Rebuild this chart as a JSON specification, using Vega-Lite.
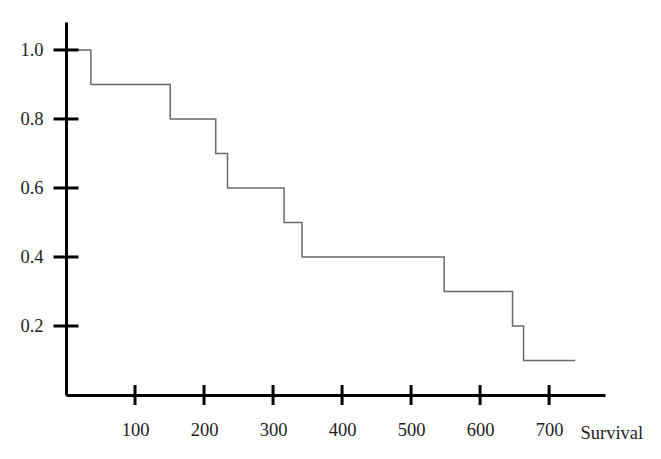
{
  "$schema": "https://vega.github.io/schema/vega-lite/v6.json",
  "autosize": "none",
  "width": 539,
  "height": 373,
  "padding": {"left": 66, "top": 22, "right": 56, "bottom": 64},
  "background": "white",
  "config": {"view": {"stroke": null}},
  "datasets": {
    "km": [
      {"t": 0, "s": 1.0},
      {"t": 36, "s": 0.9},
      {"t": 151, "s": 0.8},
      {"t": 217, "s": 0.7},
      {"t": 234, "s": 0.6},
      {"t": 316, "s": 0.5},
      {"t": 342, "s": 0.4},
      {"t": 548, "s": 0.3},
      {"t": 647, "s": 0.2},
      {"t": 663, "s": 0.1},
      {"t": 738, "s": 0.1}
    ],
    "xt": [{"v": 100}, {"v": 200}, {"v": 300}, {"v": 400}, {"v": 500}, {"v": 600}, {"v": 700}],
    "yt": [{"v": 0.2}, {"v": 0.4}, {"v": 0.6}, {"v": 0.8}, {"v": 1.0}]
  },
  "layer": [
    {
      "data": {"name": "km"},
      "mark": {"type": "line", "interpolate": "step-after", "color": "#6a6a6a", "strokeWidth": 1.5},
      "encoding": {
        "x": {
          "field": "t", "type": "quantitative",
          "scale": {"domain": [0, 781], "nice": false, "zero": true},
          "axis": {
            "values": [100, 200, 300, 400, 500, 600, 700],
            "grid": false, "ticks": false,
            "domainColor": "black", "domainWidth": 3,
            "labelFont": "Liberation Serif", "labelFontSize": 18.5, "labelColor": "#222222",
            "labelPadding": 25,
            "title": "Survival",
            "titleFont": "Liberation Serif", "titleFontSize": 18.5, "titleFontWeight": "normal", "titleColor": "#222222",
            "titleX": 514, "titleY": 43, "titleAlign": "left", "titleAnchor": "start", "titleBaseline": "alphabetic"
          }
        },
        "y": {
          "field": "s", "type": "quantitative",
          "scale": {"domain": [0, 1.081], "nice": false, "zero": true},
          "axis": {
            "values": [0.2, 0.4, 0.6, 0.8, 1.0], "format": ".1f",
            "grid": false, "ticks": false,
            "domainColor": "black", "domainWidth": 3,
            "labelFont": "Liberation Serif", "labelFontSize": 18.5, "labelColor": "#222222",
            "labelPadding": 23,
            "title": null
          }
        }
      }
    },
    {
      "data": {"name": "xt"},
      "mark": {"type": "tick", "orient": "vertical", "color": "black", "size": 20, "thickness": 3, "opacity": 1},
      "encoding": {
        "x": {"field": "v", "type": "quantitative"},
        "y": {"datum": 0, "type": "quantitative"}
      }
    },
    {
      "data": {"name": "yt"},
      "mark": {"type": "tick", "orient": "horizontal", "color": "black", "size": 25, "thickness": 3, "opacity": 1},
      "encoding": {
        "y": {"field": "v", "type": "quantitative"},
        "x": {"datum": 0, "type": "quantitative"}
      }
    }
  ]
}
